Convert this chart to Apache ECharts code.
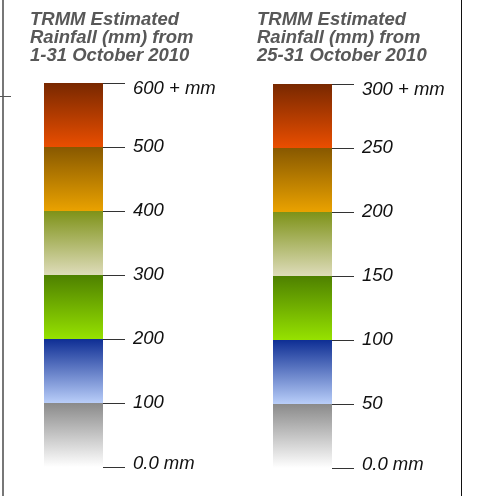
<!DOCTYPE html>
<html>
<head>
<meta charset="utf-8">
<script src="https://cdn.jsdelivr.net/npm/echarts@6/dist/echarts.min.js"></script>
<style>html,body{margin:0;padding:0;background:#fff}#c{width:477px;height:496px}</style>
</head>
<body>
<div id="c"></div>
<script>
// Titles
const leftTitle = 'TRMM Estimated\nRainfall (mm) from\n1-31 October 2010';
const rightTitle = 'TRMM Estimated\nRainfall (mm) from\n25-31 October 2010';
// Category (single legend column)
const categories = ['rainfall'];
// Segment sizes (bottom to top)
const leftSegments = [100, 100, 100, 100, 100, 100];
const rightSegments = [50, 50, 50, 50, 50, 50];
// Axis ranges
const leftMax = 600, leftStep = 100;
const rightMax = 300, rightStep = 50;
// Tick labels (bottom to top)
const leftTickLabels = ['0.0 mm', '100', '200', '300', '400', '500', '600 + mm'];
const rightTickLabels = ['0.0 mm', '50', '100', '150', '200', '250', '300 + mm'];
// Segment gradient colours [top, bottom], bottom segment first
const segColors = [
  ['#8a8a8a', '#ffffff'],
  ['#0e2e94', '#b9cef9'],
  ['#4e8000', '#96e200'],
  ['#7e9218', '#dedcba'],
  ['#875800', '#eaa200'],
  ['#782800', '#ea4e00']
];

function grad(c) {
  return new echarts.graphic.LinearGradient(0, 0, 0, 1, [
    { offset: 0, color: c[0] }, { offset: 1, color: c[1] }
  ]);
}

function makeSeries(segs, idx) {
  return segs.map((v, i) => ({
    type: 'bar',
    xAxisIndex: idx, yAxisIndex: idx,
    stack: 's' + idx,
    barWidth: '100%',
    data: [v],
    itemStyle: { color: grad(segColors[i]) },
    silent: true
  }));
}

const labelFont = { fontFamily: 'Liberation Sans', fontStyle: 'italic', fontSize: 18.5, color: '#111' };

function yAxisCfg(idx, max, step, labels) {
  return {
    type: 'value', gridIndex: idx, position: 'right',
    min: 0, max: max, interval: step,
    axisLine: { show: false },
    splitLine: { show: false },
    axisTick: { show: true, inside: false, length: 22, lineStyle: { color: '#333', width: 1 } },
    axisLabel: Object.assign({
      margin: 30,
      formatter: (v) => {
        const k = Math.round(v / step);
        const t = labels[k];
        if (k === labels.length - 1) return '{top|' + t + '}';
        if (k === 0) return '{bot|' + t + '}';
        return t;
      },
      rich: {
        top: Object.assign({ padding: [12, 0, 0, 0] }, labelFont),
        bot: Object.assign({ padding: [0, 0, 6, 0] }, labelFont)
      }
    }, labelFont)
  };
}

const titleStyle = { fontFamily: 'Liberation Sans', fontStyle: 'italic', fontWeight: 'bold', fontSize: 18.5, lineHeight: 18, color: '#585858' };

const chart = echarts.init(document.getElementById('c'), null, { renderer: 'canvas' });
chart.setOption({
  animation: false,
  backgroundColor: '#fff',
  title: [
    { text: leftTitle, left: 25, top: 6, textStyle: titleStyle },
    { text: rightTitle, left: 252, top: 6, textStyle: titleStyle }
  ],
  grid: [
    { left: 44, top: 83, width: 59, height: 384 },
    { left: 273, top: 84, width: 59, height: 384 }
  ],
  xAxis: [
    { type: 'category', gridIndex: 0, data: categories, show: false },
    { type: 'category', gridIndex: 1, data: categories, show: false }
  ],
  yAxis: [
    yAxisCfg(0, leftMax, leftStep, leftTickLabels),
    yAxisCfg(1, rightMax, rightStep, rightTickLabels)
  ],
  series: makeSeries(leftSegments, 0).concat(makeSeries(rightSegments, 1)),
  graphic: [
    { type: 'rect', shape: { x: 2, y: 0, width: 2, height: 496 }, style: { fill: '#777' }, silent: true },
    { type: 'line', shape: { x1: 0, y1: 96.5, x2: 11, y2: 96.5 }, style: { stroke: '#555', lineWidth: 1 }, silent: true },
    { type: 'line', shape: { x1: 461.5, y1: 0, x2: 461.5, y2: 496 }, style: { stroke: '#111', lineWidth: 1 }, silent: true }
  ]
});
</script>
</body>
</html>
